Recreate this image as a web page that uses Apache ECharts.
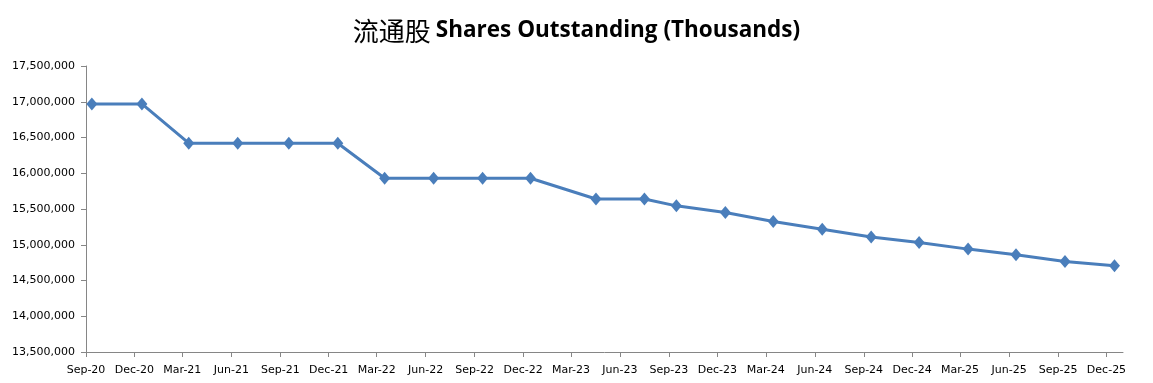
<!DOCTYPE html>
<html>
<head>
<meta charset="utf-8">
<script src="https://cdn.jsdelivr.net/npm/echarts@6/dist/echarts.min.js"></script>
<style>
html,body{margin:0;padding:0;background:#fff;}
#chart{width:1153px;height:383px;}
</style>
</head>
<body>
<div id="chart"></div>
<script>
// Data (thousands of shares), observation dates
const dates = ['2020-09-12','2020-12-15','2021-03-13','2021-06-13','2021-09-17','2021-12-18',
  '2022-03-16','2022-06-16','2022-09-16','2022-12-15','2023-04-17','2023-07-17','2023-09-15',
  '2023-12-16','2024-03-15','2024-06-15','2024-09-15','2024-12-14','2025-03-16','2025-06-14',
  '2025-09-14','2025-12-16'];
const sharesOutstanding = [16970000,16970000,16420000,16420000,16420000,16420000,
  15930000,15930000,15930000,15930000,15640000,15640000,15544000,
  15451000,15325000,15218000,15107000,15032000,14939000,14860000,
  14766000,14706000];
const tickDates = ['2020-09-01','2020-12-01','2021-03-01','2021-06-01','2021-09-01','2021-12-01',
  '2022-03-01','2022-06-01','2022-09-01','2022-12-01','2023-03-01','2023-06-01','2023-09-01',
  '2023-12-01','2024-03-01','2024-06-01','2024-09-01','2024-12-01','2025-03-01','2025-06-01',
  '2025-09-01','2025-12-01'];
const monthNames = ['Jan','Feb','Mar','Apr','May','Jun','Jul','Aug','Sep','Oct','Nov','Dec'];
const xMin = '2020-09-01';
const xMax = '2026-01-01';
const yMin = 13500000, yMax = 17500000, yInterval = 500000;

function toMs(s){ const p = s.split('-').map(Number); return Date.UTC(p[0], p[1]-1, p[2]); }

const chart = echarts.init(document.getElementById('chart'));
const axisColor = '#868686';
const labelFont = 'DejaVu Sans';
const tickMs = tickDates.map(toMs);
chart.setOption({
  animation: false,
  backgroundColor: '#ffffff',
  title: {
    left: 'center', top: 13,
    text: '{cn|流通股} {en|Shares Outstanding (Thousands)}',
    textStyle: {
      rich: {
        cn: { fontFamily: 'Noto Sans CJK SC', fontSize: 26, fontWeight: 'normal', color: '#000' },
        en: { fontFamily: 'Open Sans', fontSize: 22.5, fontWeight: 'bold', color: '#000' }
      }
    }
  },
  grid: { left: 86, right: 30, top: 66, bottom: 31, containLabel: false },
  xAxis: {
    type: 'value',
    min: toMs(xMin), max: toMs(xMax),
    axisLine: { show: true, lineStyle: { color: axisColor, width: 1 } },
    axisTick: { show: true, length: 5, lineStyle: { color: axisColor }, customValues: tickMs },
    axisLabel: {
      customValues: tickMs,
      margin: 13, color: '#000', fontFamily: labelFont, fontSize: 11,
      formatter: function (v) {
        const d = new Date(v);
        return monthNames[d.getUTCMonth()] + '-' + String(d.getUTCFullYear()).slice(2);
      }
    },
    splitLine: { show: false }
  },
  yAxis: {
    type: 'value',
    min: yMin, max: yMax, interval: yInterval,
    axisLine: { show: true, lineStyle: { color: axisColor, width: 1 } },
    axisTick: { show: true, length: 5, lineStyle: { color: axisColor } },
    axisLabel: {
      margin: 11, color: '#000', fontFamily: labelFont, fontSize: 11,
      formatter: function (v) { return v.toLocaleString('en-US'); }
    },
    splitLine: { show: false }
  },
  series: [{
    type: 'line',
    data: dates.map((d, i) => [toMs(d), sharesOutstanding[i]]),
    symbol: 'diamond',
    symbolSize: [11, 13],
    lineStyle: { color: '#4A7EBB', width: 3 },
    itemStyle: { color: '#4A7EBB' }
  }]
});
</script>
</body>
</html>
